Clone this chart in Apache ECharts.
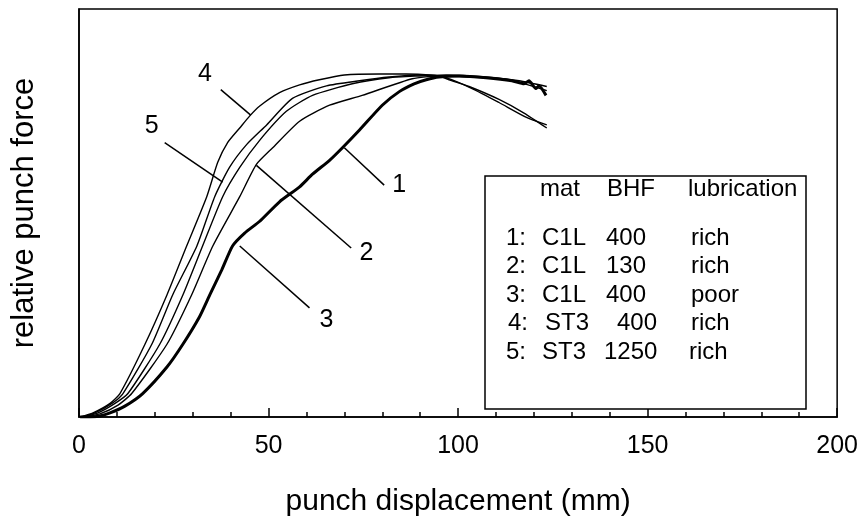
<!DOCTYPE html>
<html>
<head>
<meta charset="utf-8">
<script src="https://cdn.jsdelivr.net/npm/echarts@6/dist/echarts.min.js"></script>
<style>html,body{margin:0;padding:0;background:#fff}#c{width:861px;height:522px}</style>
</head>
<body>
<div id="c"></div>
<script>
// ---- data (punch displacement in mm, relative punch force) ----
const c1x = [0.3, 2.9, 5.5, 8.2, 12.1, 16.8, 23.2, 27.4, 31.8, 34.5, 37.6, 40.5, 43.7, 47.6, 52.9, 58.2, 61.6, 66.1, 69.5, 74.0, 80.0, 84.5, 88.4, 91.6, 95.0, 100.3, 107.4, 114.2, 117.4, 118.7, 120.5, 121.3, 123.2];
const c1y = [0, 0, 0.003, 0.012, 0.032, 0.069, 0.147, 0.214, 0.295, 0.359, 0.431, 0.503, 0.541, 0.575, 0.633, 0.677, 0.714, 0.755, 0.792, 0.844, 0.917, 0.957, 0.98, 0.992, 1.0, 1.003, 0.998, 0.989, 0.98, 0.989, 0.966, 0.974, 0.946];

const c2x = [1.6, 5.5, 10.3, 13.9, 23.2, 29.7, 35.3, 42.4, 46.8, 51.1, 58.2, 66.1, 74.7, 87.9, 95.0, 102.9, 113.4, 123.4];
const c2y = [0, 0.009, 0.035, 0.069, 0.214, 0.359, 0.503, 0.648, 0.743, 0.792, 0.870, 0.917, 0.946, 0.995, 1.003, 1.000, 0.992, 0.960];

const c3x = [1.3, 5.0, 9.5, 12.9, 21.3, 27.4, 32.6, 37.9, 42.4, 47.6, 54.7, 61.6, 72.1, 81.8, 89.7, 96.8, 107.4, 116.1, 123.4];
const c3y = [0, 0.012, 0.040, 0.069, 0.214, 0.359, 0.503, 0.648, 0.734, 0.813, 0.899, 0.946, 0.980, 0.998, 1.003, 1.006, 1.000, 0.989, 0.972];

const c4x = [0.3, 3.7, 8.2, 10.8, 17.4, 23.2, 28.4, 33.7, 36.6, 39.2, 42.4, 45.0, 47.6, 52.9, 58.2, 63.4, 70.0, 79.2, 86.3, 92.4, 96.8, 103.7, 110.8, 117.9, 123.4];
const c4y = [0, 0.012, 0.040, 0.069, 0.214, 0.359, 0.503, 0.648, 0.749, 0.807, 0.850, 0.885, 0.914, 0.954, 0.977, 0.992, 1.006, 1.009, 1.009, 1.006, 0.998, 0.966, 0.925, 0.882, 0.859];

const c5x = [0.8, 4.2, 8.7, 11.6, 19.2, 24.7, 31.1, 35.8, 39.7, 44.2, 49.5, 56.3, 65.3, 74.0, 81.8, 89.7, 95.0, 97.6, 102.9, 110.8, 117.4, 123.4];
const c5y = [0, 0.012, 0.040, 0.069, 0.214, 0.359, 0.503, 0.648, 0.734, 0.801, 0.859, 0.937, 0.974, 0.989, 1.0, 1.006, 1.003, 0.992, 0.972, 0.934, 0.894, 0.850];

// curve labels and leader lines (data coordinates)
const labelNames = ['1', '2', '3', '4', '5'];
const labelPos   = [[84.5, 0.682], [75.8, 0.483], [65.3, 0.286], [33.2, 1.009], [19.2, 0.856]];
const leaderFrom = [[70.0, 0.792], [46.8, 0.740], [42.4, 0.503], [45.3, 0.888], [37.9, 0.691]];
const leaderTo   = [[80.5, 0.682], [71.8, 0.497], [60.8, 0.321], [37.4, 0.963], [22.6, 0.807]];

// table
const tableHeader = ['mat', 'BHF', 'lubrication'];
const tableRows = [
  ['1:', 'C1L', '400', 'rich'],
  ['2:', 'C1L', '130', 'rich'],
  ['3:', 'C1L', '400', 'poor'],
  ['4:', 'ST3', '400', 'rich'],
  ['5:', 'ST3', '1250', 'rich']
];

const xTitle = 'punch displacement (mm)';
const yTitle = 'relative punch force';

function zip(xs, ys) { return xs.map((x, i) => [x, ys[i]]); }

const FONT = '"Liberation Sans", Arial, sans-serif';
const chart = echarts.init(document.getElementById('c'), null, { renderer: 'canvas' });

const curves = [
  { name: '1', d: zip(c1x, c1y), w: 3 },
  { name: '2', d: zip(c2x, c2y), w: 1.4 },
  { name: '3', d: zip(c3x, c3y), w: 1.4 },
  { name: '4', d: zip(c4x, c4y), w: 1.4 },
  { name: '5', d: zip(c5x, c5y), w: 1.4 }
];

const series = curves.map(c => ({
  type: 'line', name: c.name, data: c.d, symbol: 'none', smooth: 0.2,
  lineStyle: { color: '#000', width: c.w }, z: 3
}));
series.push({
  type: 'line', name: 'leaders', data: [], symbol: 'none',
  markLine: {
    silent: true, symbol: 'none', animation: false,
    lineStyle: { color: '#000', width: 1.5, type: 'solid' },
    label: { show: false },
    data: leaderFrom.map((f, i) => [{ coord: f }, { coord: leaderTo[i] }])
  }
});

chart.setOption({
  animation: false,
  backgroundColor: '#fff',
  grid: { left: 79, top: 9, right: 22, bottom: 98, show: true, borderColor: '#000', borderWidth: 1.5, containLabel: false },
  xAxis: {
    type: 'value', min: 0, max: 200, interval: 50,
    name: xTitle, nameLocation: 'middle', nameGap: 70,
    nameTextStyle: { fontFamily: FONT, fontSize: 30, color: '#000' },
    axisLine: { lineStyle: { color: '#000', width: 1.5 } },
    axisTick: { show: true, inside: true, length: 9, lineStyle: { color: '#000', width: 1.5 } },
    minorTick: { show: true, splitNumber: 5, length: 5, lineStyle: { color: '#000', width: 1.5 } },
    axisLabel: { fontFamily: FONT, fontSize: 25, color: '#000', margin: 17 },
    splitLine: { show: false }
  },
  yAxis: {
    type: 'value', min: 0, max: 1.2,
    name: yTitle, nameLocation: 'middle', nameGap: 39, nameRotate: 90,
    nameTextStyle: { fontFamily: FONT, fontSize: 31, color: '#000' },
    axisLine: { show: true, lineStyle: { color: '#000', width: 1.5 } },
    axisTick: { show: false }, axisLabel: { show: false },
    splitLine: { show: false }
  },
  series: series
});

// curve number labels
const graphics = [];
labelNames.forEach((t, i) => {
  const p = chart.convertToPixel({ gridIndex: 0 }, labelPos[i]);
  graphics.push({ type: 'text', x: p[0], y: p[1], z: 10,
    style: { text: t, fontFamily: FONT, fontSize: 25, fill: '#000', textAlign: 'center', textVerticalAlign: 'middle' } });
});

// table box
const box = { l: 485, t: 176, r: 806, b: 409 };
graphics.push({ type: 'rect', z: 9, shape: { x: box.l, y: box.t, width: box.r - box.l, height: box.b - box.t },
  style: { fill: '#fff', stroke: '#000', lineWidth: 1.5 } });
const headerX = [540, 607, 688];
tableHeader.forEach((t, j) => {
  graphics.push({ type: 'text', z: 10, x: headerX[j], y: 189,
    style: { text: t, fontFamily: FONT, fontSize: 24, fill: '#000', textAlign: 'left', textVerticalAlign: 'middle' } });
});
const rowY = [238, 266, 295, 323, 352];
const colX = [[506, 542, 606, 691], [506, 542, 606, 691], [506, 542, 606, 691], [508, 545, 617, 691], [506, 542, 604, 689]];
tableRows.forEach((row, r) => {
  row.forEach((t, j) => {
    graphics.push({ type: 'text', z: 10, x: colX[r][j], y: rowY[r],
      style: { text: t, fontFamily: FONT, fontSize: 24, fill: '#000', textAlign: 'left', textVerticalAlign: 'middle' } });
  });
});
chart.setOption({ graphic: graphics });
</script>
</body>
</html>
